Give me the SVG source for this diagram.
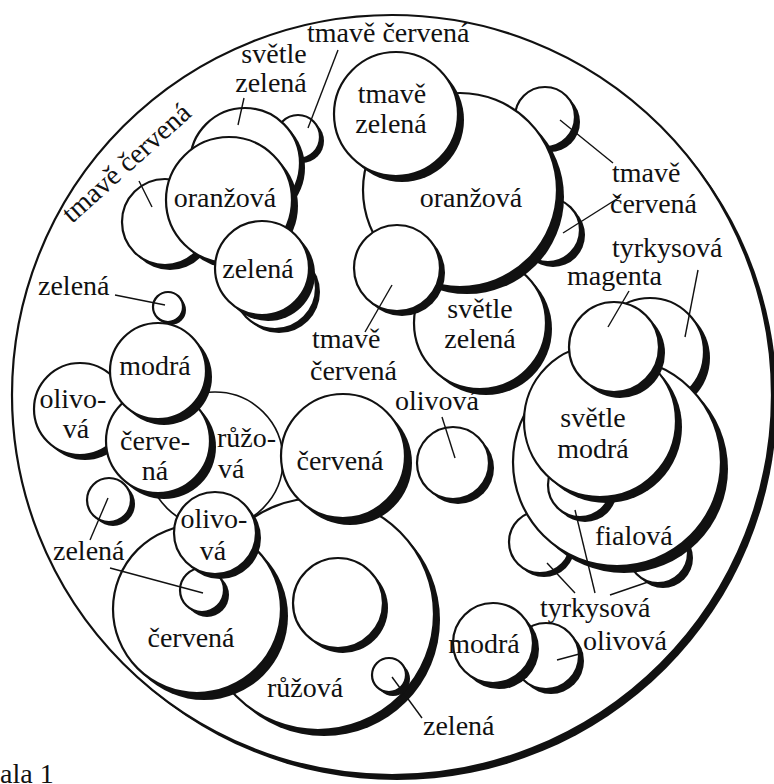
<svg xmlns="http://www.w3.org/2000/svg" width="774" height="784" viewBox="0 0 774 784">
<style>
.s{fill:#111}
.c{fill:#fff;stroke:#111;stroke-width:2.2}
.thin{fill:#fff;stroke:#111;stroke-width:1.6}
text{font-family:"Liberation Serif","DejaVu Serif",serif;font-size:28px;fill:#111}
.m{text-anchor:middle}
#connectors line{stroke:#111;stroke-width:1.4}
</style>
<rect width="774" height="784" fill="#fff"/>
<g id="outer"><circle class="s" cx="397" cy="400" r="380"/><circle class="c" cx="392" cy="395" r="380"/></g>

<g id="c2"><circle class="s" cx="302" cy="141" r="22"/><circle class="c" cx="298" cy="137" r="22"/></g>
<g id="c1"><circle class="s" cx="250" cy="168" r="55"/><circle class="c" cx="245" cy="163" r="55"/></g>
<g id="c4"><circle class="s" cx="170" cy="227" r="43"/><circle class="c" cx="165" cy="222" r="43"/></g>
<g id="c3"><circle class="s" cx="235" cy="206" r="63"/><circle class="c" cx="229" cy="200" r="63"/><text class="m" x="225" y="207">oranžová</text></g>
<g id="c5b"><circle class="s" cx="279" cy="292" r="41"/><circle class="c" cx="275" cy="288" r="41"/></g>
<g id="c5"><circle class="s" cx="268" cy="274" r="47"/><circle class="c" cx="262" cy="268" r="47"/><text class="m" x="258" y="278">zelená</text></g>

<g id="c8"><circle class="s" cx="550" cy="122" r="30"/><circle class="c" cx="545" cy="117" r="30"/></g>
<g id="c9"><circle class="s" cx="553" cy="235" r="32"/><circle class="c" cx="548" cy="230" r="32"/></g>
<g id="c11"><circle class="s" cx="486" cy="329" r="66"/><circle class="c" cx="480" cy="323" r="66"/><text class="m" x="480" y="318">světle</text><text class="m" x="480" y="348">zelená</text></g>
<g id="c7"><circle class="s" cx="467" cy="197" r="97"/><circle class="c" cx="460" cy="190" r="97"/><text class="m" x="471" y="207">oranžová</text></g>
<g id="c6"><circle class="s" cx="402" cy="120" r="62"/><circle class="c" cx="396" cy="114" r="62"/><text class="m" x="392" y="103">tmavě</text><text class="m" x="391" y="133">zelená</text></g>
<g id="c10"><circle class="s" cx="402" cy="273" r="43"/><circle class="c" cx="397" cy="268" r="43"/></g>

<g id="c12"><circle class="s" cx="656" cy="358" r="54"/><circle class="c" cx="650" cy="352" r="54"/></g>
<g id="c17"><circle class="s" cx="544" cy="546" r="31"/><circle class="c" cx="540" cy="542" r="31"/></g>
<g id="c18"><circle class="s" cx="663" cy="558" r="30"/><circle class="c" cx="658" cy="553" r="30"/></g>
<g id="c14"><circle class="s" cx="624" cy="469" r="104"/><circle class="c" cx="617" cy="462" r="104"/><text x="595" y="545">fialová</text></g>
<g id="c16"><circle class="s" cx="585" cy="490" r="32"/><circle class="c" cx="580" cy="485" r="32"/></g>
<g id="c15"><circle class="s" cx="606" cy="427" r="76"/><circle class="c" cx="600" cy="421" r="76"/><text class="m" x="593" y="427">světle</text><text class="m" x="593" y="458">modrá</text></g>
<g id="c13"><circle class="s" cx="620" cy="353" r="45"/><circle class="c" cx="614" cy="347" r="45"/></g>

<g id="c20"><circle class="s" cx="551" cy="661" r="33"/><circle class="c" cx="546" cy="656" r="33"/></g>
<g id="c19"><circle class="s" cx="499" cy="649" r="40"/><circle class="c" cx="493" cy="643" r="40"/><text class="m" x="484" y="653">modrá</text></g>

<g id="c21"><circle class="s" cx="171" cy="310" r="15"/><circle class="c" cx="168" cy="307" r="15"/></g>
<g id="c23"><circle class="s" cx="85" cy="414" r="46"/><circle class="c" cx="80" cy="409" r="46"/><text class="m" x="73" y="408">olivo-</text><text class="m" x="76" y="438">vá</text></g>
<g id="c25"><circle class="thin" cx="215" cy="460" r="68"/><text x="217" y="447">růžo-</text><text x="218" y="478">vá</text></g>
<g id="c24"><circle class="s" cx="164" cy="447" r="52"/><circle class="c" cx="158" cy="441" r="52"/><text class="m" x="155" y="450">červe-</text><text class="m" x="155" y="480">ná</text></g>
<g id="c22"><circle class="s" cx="164" cy="377" r="48"/><circle class="c" cx="158" cy="371" r="48"/><text class="m" x="155" y="375">modrá</text></g>
<g id="c30"><circle class="s" cx="113" cy="504" r="22"/><circle class="c" cx="109" cy="500" r="22"/></g>

<g id="c25b"><circle class="s" cx="324" cy="620" r="116"/><circle class="c" cx="318" cy="614" r="116"/><text class="m" x="305" y="697">růžová</text></g>
<g id="c26"><circle class="s" cx="343" cy="608" r="45"/><circle class="c" cx="338" cy="603" r="45"/></g>
<g id="c33"><circle class="s" cx="393" cy="679" r="17"/><circle class="c" cx="389" cy="675" r="17"/></g>
<g id="c27"><circle class="s" cx="204" cy="616" r="84"/><circle class="c" cx="197" cy="609" r="84"/><text class="m" x="191" y="647">červená</text></g>
<g id="c29"><circle class="s" cx="207" cy="595" r="22"/><circle class="c" cx="202" cy="590" r="22"/></g>
<g id="c28"><circle class="s" cx="220" cy="538" r="41"/><circle class="c" cx="215" cy="533" r="41"/><text class="m" x="214" y="528">olivo-</text><text class="m" x="213" y="560">vá</text></g>
<g id="c31"><circle class="s" cx="350" cy="463" r="62"/><circle class="c" cx="343" cy="456" r="62"/><text class="m" x="340" y="470">červená</text></g>
<g id="c32"><circle class="s" cx="458" cy="468" r="36"/><circle class="c" cx="453" cy="463" r="36"/></g>

<g id="connectors">
<line x1="238" y1="125" x2="244" y2="98"/>
<line x1="308" y1="128" x2="338" y2="50"/>
<line x1="152" y1="207" x2="139" y2="181"/>
<line x1="560" y1="120" x2="613" y2="163"/>
<line x1="563" y1="233" x2="620" y2="197"/>
<line x1="392" y1="285" x2="365" y2="332"/>
<line x1="685" y1="337" x2="698" y2="270"/>
<line x1="608" y1="327" x2="629" y2="291"/>
<line x1="575" y1="510" x2="595" y2="593"/>
<line x1="547" y1="563" x2="575" y2="593"/>
<line x1="648" y1="582" x2="610" y2="595"/>
<line x1="557" y1="660" x2="583" y2="653"/>
<line x1="165" y1="305" x2="115" y2="295"/>
<line x1="108" y1="498" x2="90" y2="540"/>
<line x1="203" y1="593" x2="110" y2="568"/>
<line x1="455" y1="458" x2="442" y2="417"/>
<line x1="392" y1="677" x2="422" y2="718"/>
</g>

<g id="labels">
<text x="307" y="42">tmavě červená</text>
<text class="m" x="274" y="63">světle</text>
<text class="m" x="271" y="92">zelená</text>
<text x="0" y="0" transform="translate(72 224) rotate(-42)">tmavě červená</text>
<text x="612" y="182">tmavě</text>
<text x="610" y="213">červená</text>
<text x="312" y="348">tmavě</text>
<text x="310" y="380">červená</text>
<text x="612" y="257">tyrkysová</text>
<text x="567" y="285">magenta</text>
<text x="540" y="617">tyrkysová</text>
<text x="583" y="650">olivová</text>
<text x="423" y="735">zelená</text>
<text x="395" y="410">olivová</text>
<text x="38" y="295">zelená</text>
<text x="53" y="560">zelená</text>
<text x="0" y="783">ala 1</text>
</g>
</svg>
